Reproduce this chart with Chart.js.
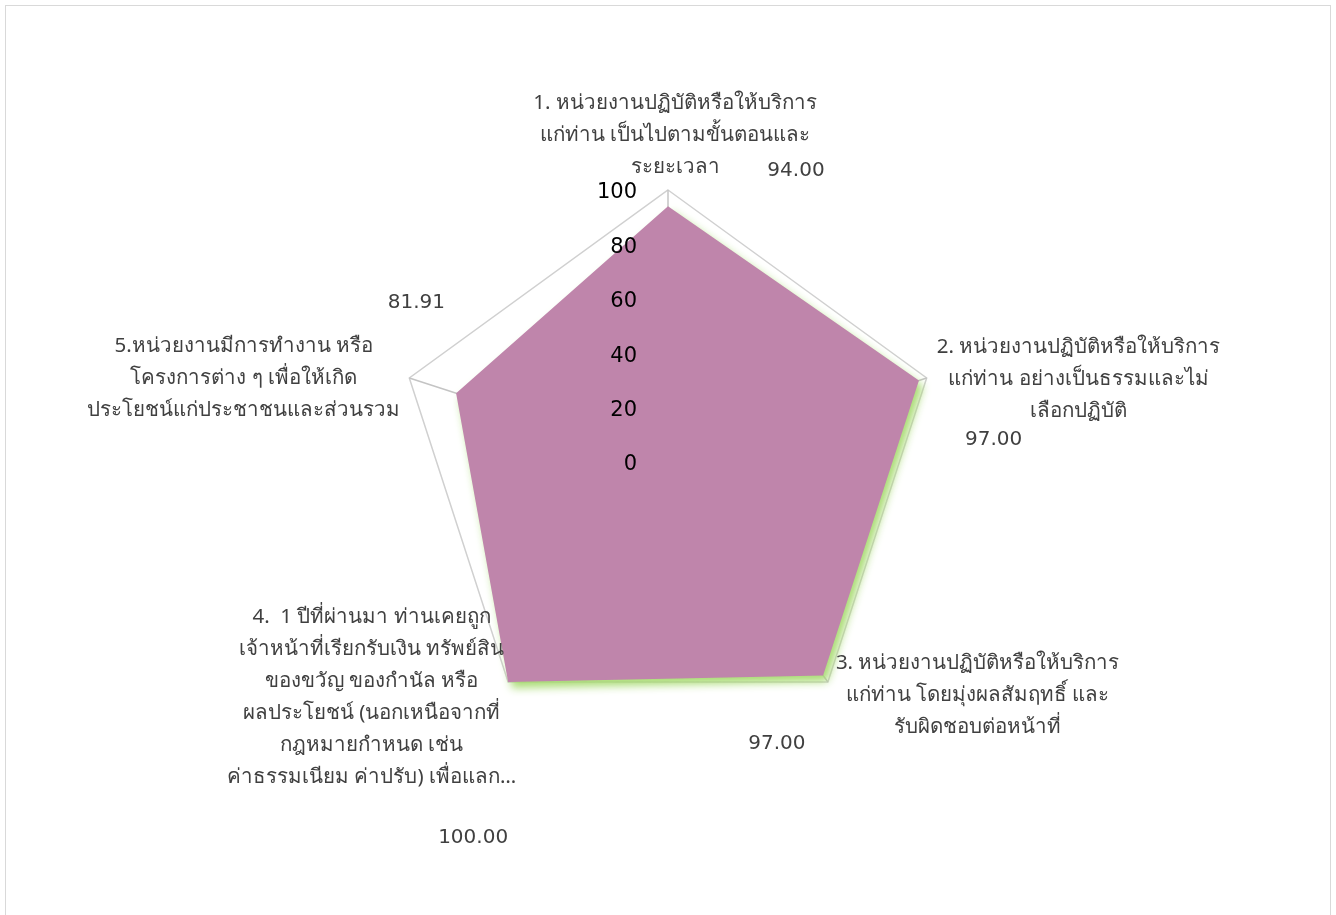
<!DOCTYPE html>
<html>
<head>
<meta charset="utf-8">
<script src="https://cdn.jsdelivr.net/npm/chart.js@4.4.1/dist/chart.umd.min.js"></script>
<style>
  html, body { margin: 0; padding: 0; background: #fff; }
  #moldura { position: absolute; left: 5px; top: 5px; width: 1324px; height: 940px; border: 1px solid #d9d9d9; }
  #area { position: absolute; left: 0; top: 0; width: 1336px; height: 915px; }
</style>
</head>
<body>
<div id="moldura"></div>
<div id="area"><canvas id="radar"></canvas></div>
<script>
const categorias = [
  ['1. หน่วยงานปฏิบัติหรือให้บริการ', 'แก่ท่าน เป็นไปตามขั้นตอนและ', 'ระยะเวลา'],
  ['2. หน่วยงานปฏิบัติหรือให้บริการ', 'แก่ท่าน อย่างเป็นธรรมและไม่', 'เลือกปฏิบัติ'],
  ['3. หน่วยงานปฏิบัติหรือให้บริการ', 'แก่ท่าน โดยมุ่งผลสัมฤทธิ์ และ', 'รับผิดชอบต่อหน้าที่'],
  ['4.  1 ปีที่ผ่านมา ท่านเคยถูก', 'เจ้าหน้าที่เรียกรับเงิน ทรัพย์สิน', 'ของขวัญ ของกำนัล หรือ', 'ผลประโยชน์ (นอกเหนือจากที่', 'กฎหมายกำหนด เช่น', 'ค่าธรรมเนียม ค่าปรับ) เพื่อแลก…'],
  ['5.หน่วยงานมีการทำงาน หรือ', 'โครงการต่าง ๆ เพื่อให้เกิด', 'ประโยชน์แก่ประชาชนและส่วนรวม']
];
const valores = [94.00, 97.00, 97.00, 100.00, 81.91];
const ticksEscala = [0, 20, 40, 60, 80, 100];

// onde ficam os textos em volta (relativo ao vertice do 100)
const posRotulos = [
  { align: 'center', dx: 7, dy: -55 },
  { align: 'left', dx: 10, dy: 1 },
  { align: 'left', dx: 8, dy: 13 },
  { align: 'right', dx: 8, dy: 15 },
  { align: 'right', dx: -9, dy: 0 }
];
const posValores = [[128, -19], [67, 62], [-51, 62], [-35, 156], [7, -75]];

const fonte = "'Noto Sans', 'DejaVu Sans', sans-serif";
const fonteNum = "'DejaVu Sans', sans-serif";

const sombra = {
  id: 'sombra',
  beforeDatasetsDraw(chart) {
    const ctx = chart.ctx;
    ctx.save();
    ctx.shadowColor = 'rgba(165, 218, 110, 0.95)';
    ctx.shadowBlur = 9;
    ctx.shadowOffsetX = 4;
    ctx.shadowOffsetY = 6;
  },
  afterDatasetsDraw(chart) {
    chart.ctx.restore();
  }
};

const textos = {
  id: 'textos',
  afterDraw(chart) {
    const ctx = chart.ctx;
    const r = chart.scales.r;
    ctx.save();

    // ticks do eixo
    ctx.font = '21px ' + fonteNum;
    ctx.fillStyle = '#000';
    ctx.textAlign = 'right';
    ctx.textBaseline = 'middle';
    ticksEscala.forEach(v => {
      ctx.fillText(String(v), r.xCenter - 31, r.yCenter - r.getDistanceFromCenterForValue(v) + 3);
    });

    // rotulos das categorias
    ctx.font = '20.5px ' + fonte;
    ctx.fillStyle = '#404040';
    ctx.textAlign = 'center';
    const lh = 32;
    categorias.forEach((linhas, i) => {
      const p = r.getPointPositionForValue(i, 100);
      const cfg = posRotulos[i];
      const w = Math.max(...linhas.map(l => ctx.measureText(l).width));
      let cx = p.x + cfg.dx;
      if (cfg.align === 'left') cx += w / 2;
      if (cfg.align === 'right') cx -= w / 2;
      const cy = p.y + cfg.dy;
      linhas.forEach((l, k) => {
        ctx.fillText(l, cx, cy - (linhas.length - 1) / 2 * lh + k * lh);
      });
    });

    // valores
    ctx.font = '20px ' + fonteNum;
    valores.forEach((v, i) => {
      const p = r.getPointPositionForValue(i, 100);
      ctx.fillText(v.toFixed(2), p.x + posValores[i][0], p.y + posValores[i][1]);
    });
    ctx.restore();
  }
};

const config = {
  type: 'radar',
  data: {
    labels: categorias,
    datasets: [{
      label: 'ค่าคะแนน',
      data: valores,
      backgroundColor: '#bf85ab',
      borderWidth: 0,
      pointRadius: 0,
      fill: true
    }]
  },
  options: {
    responsive: false,
    animation: false,
    layout: { padding: { top: 190, bottom: 181, left: 0, right: 0 } },
    plugins: { legend: { display: false }, tooltip: { enabled: false } },
    scales: {
      r: {
        min: 0,
        max: 100,
        z: 1,
        ticks: { display: false, stepSize: 20 },
        pointLabels: { display: false },
        grid: {
          color: c => c.tick.value === 100 ? '#d0d0d0' : 'rgba(0,0,0,0)',
          lineWidth: 1.5
        },
        angleLines: { color: '#c4c4c4', lineWidth: 1.5 }
      }
    }
  },
  plugins: [sombra, textos]
};

const tela = document.getElementById('radar');
tela.width = 1336;
tela.height = 915;
new Chart(tela, config);
</script>
</body>
</html>
